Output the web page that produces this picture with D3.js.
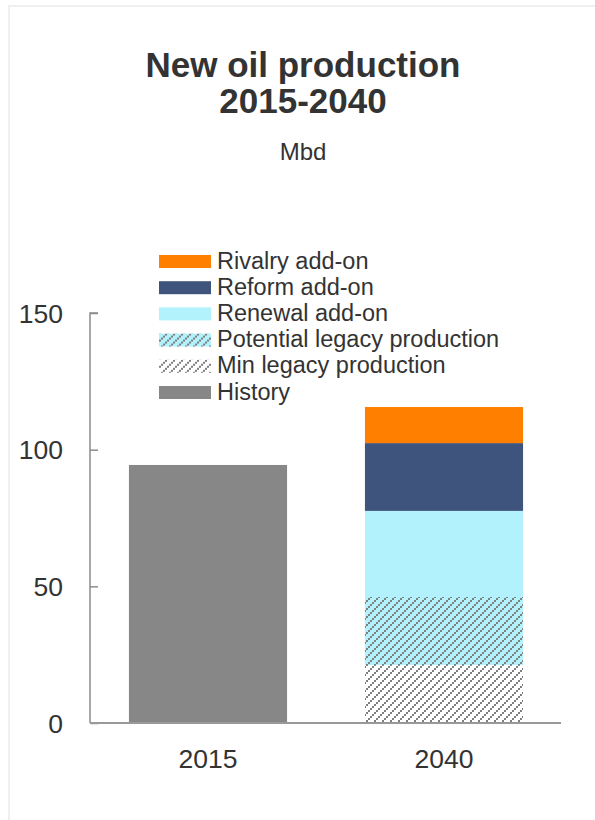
<!DOCTYPE html>
<html>
<head>
<meta charset="utf-8">
<script src="https://cdn.jsdelivr.net/npm/d3@7"></script>
<style>
  body { margin: 0; background: #fff; }
  svg { display: block; font-family: "Liberation Sans", Arial, sans-serif; }
</style>
</head>
<body>
<div id="chart"></div>
<script>
// chart data
const years = ["2015", "2040"];
const seriesNames = ["Min legacy production", "Potential legacy production", "Renewal add-on", "Reform add-on", "Rivalry add-on"];
const history = [94.4, 0];
const minLegacy = [0, 21.2];
const potentialLegacy = [0, 24.9];
const renewal = [0, 31.5];
const reform = [0, 24.8];
const rivalry = [0, 13.2];
const yTicks = [0, 50, 100, 150];
const legendOrder = ["Rivalry add-on", "Reform add-on", "Renewal add-on", "Potential legacy production", "Min legacy production", "History"];

const W = 595, H = 820;
const svg = d3.select("#chart").append("svg")
  .attr("width", W)
  .attr("height", H);

// hatch patterns
const defs = svg.append("defs");
function hatch(id, bg) {
  const p = defs.append("pattern")
    .attr("id", id)
    .attr("patternUnits", "userSpaceOnUse")
    .attr("width", 8)
    .attr("height", 8);
  if (bg) p.append("rect").attr("width", 8).attr("height", 8).attr("fill", bg);
  [[0, 6], [2, 4], [4, 2], [6, 0]].forEach(d => {
    p.append("rect").attr("x", d[0]).attr("y", d[1]).attr("width", 2).attr("height", 2).attr("fill", "#808080");
  });
}
hatch("hatch-min", null);
hatch("hatch-pot", "#b2f2fc");

const fills = {
  "History": "#878787",
  "Min legacy production": "url(#hatch-min)",
  "Potential legacy production": "url(#hatch-pot)",
  "Renewal add-on": "#b2f2fc",
  "Reform add-on": "#3f547d",
  "Rivalry add-on": "#ff7f00"
};

// frame
svg.append("rect")
  .attr("x", 9).attr("y", 6)
  .attr("width", W).attr("height", H)
  .attr("fill", "none")
  .attr("stroke", "#efefef")
  .attr("stroke-width", 2);

// title
svg.append("text").attr("x", 303).attr("y", 77)
  .attr("text-anchor", "middle").attr("font-size", 35).attr("font-weight", "bold")
  .attr("fill", "#333").text("New oil production");
svg.append("text").attr("x", 303).attr("y", 113)
  .attr("text-anchor", "middle").attr("font-size", 35).attr("font-weight", "bold")
  .attr("fill", "#333").text("2015-2040");
svg.append("text").attr("x", 303).attr("y", 160)
  .attr("text-anchor", "middle").attr("font-size", 24)
  .attr("fill", "#333").text("Mbd");

// scales
const x = d3.scaleBand().domain(years).range([90, 562]).paddingInner(0.33).paddingOuter(0.165);
const y = d3.scaleLinear().domain([0, 150]).range([723, 313]);

// stack
const rows = years.map((yr, i) => ({
  year: yr,
  "History": history[i],
  "Min legacy production": minLegacy[i],
  "Potential legacy production": potentialLegacy[i],
  "Renewal add-on": renewal[i],
  "Reform add-on": reform[i],
  "Rivalry add-on": rivalry[i]
}));
const stack = d3.stack().keys(["History"].concat(seriesNames));
const layers = stack(rows);

svg.append("g").selectAll("g")
  .data(layers)
  .join("g")
  .attr("fill", d => fills[d.key])
  .selectAll("rect")
  .data(d => d)
  .join("rect")
  .attr("x", d => x(d.data.year))
  .attr("width", x.bandwidth())
  .attr("y", d => y(d[1]))
  .attr("height", d => y(d[0]) - y(d[1]));

// y axis
const yAxis = svg.append("g")
  .attr("transform", "translate(90,0)")
  .call(d3.axisRight(y).tickValues(yTicks).tickSize(8).tickFormat(""));
yAxis.select(".domain").attr("stroke", "#8c8c8c").attr("stroke-width", 1.5)
  .attr("d", `M8,${y(150)}H0V${y(0)}`);
yAxis.selectAll(".tick line").attr("stroke", "#8c8c8c").attr("stroke-width", 1.5);
svg.append("g").selectAll("text")
  .data(yTicks)
  .join("text")
  .attr("x", 63)
  .attr("y", d => y(d) + 9.5)
  .attr("text-anchor", "end")
  .attr("font-size", 26.5)
  .attr("fill", "#333")
  .text(d => d);

// x axis
svg.append("line")
  .attr("x1", 90).attr("x2", 561)
  .attr("y1", y(0)).attr("y2", y(0))
  .attr("stroke", "#999").attr("stroke-width", 2);
svg.append("g").selectAll("text")
  .data(years)
  .join("text")
  .attr("x", d => x(d) + x.bandwidth() / 2)
  .attr("y", 768)
  .attr("text-anchor", "middle")
  .attr("font-size", 26.5)
  .attr("fill", "#333")
  .text(d => d);

// legend
const lg = svg.append("g").attr("transform", "translate(159,255)");
const item = lg.selectAll("g")
  .data(legendOrder)
  .join("g")
  .attr("transform", (d, i) => `translate(0,${i * 26.2})`);
item.append("rect")
  .attr("width", 52).attr("height", 13)
  .attr("fill", d => fills[d]);
item.append("text")
  .attr("x", 58).attr("y", 13.5)
  .attr("font-size", 23.5)
  .attr("fill", "#333")
  .text(d => d);
</script>
</body>
</html>
